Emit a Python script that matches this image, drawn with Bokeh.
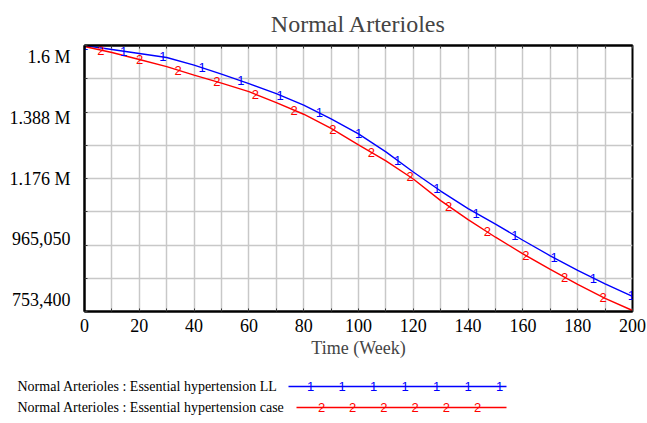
from bokeh.plotting import figure
from bokeh.layouts import column
from bokeh.models import FixedTicker, Range1d, LinearAxis
from bokeh.core.properties import value
from bokeh.embed import file_html
from bokeh.resources import INLINE
import numpy as np

# ---------------- data ----------------
title_text = "Normal Arterioles"
x_label = "Time (Week)"
weeks = [0, 10, 20, 30, 40, 50, 60, 70, 80, 90, 100,
         110, 120, 130, 140, 150, 160, 170, 180, 190, 200]
ll_series = [1600000, 1587200, 1574400, 1561700, 1537700, 1509000, 1478600,
             1446700, 1409900, 1366800, 1318900, 1261400, 1197500, 1136800,
             1080900, 1031300, 980200, 930700, 884400, 841300, 801300]
case_series = [1596800, 1577600, 1555300, 1532900, 1505800, 1480200, 1453000,
               1417900, 1381200, 1336400, 1283700, 1232600, 1175100, 1106400,
               1045700, 989800, 937100, 887600, 839700, 794900, 756600]
ll_marker_weeks = [0, 14.3, 28.6, 42.9, 57.1, 71.4, 85.7, 100, 114.3, 128.6,
                   142.9, 157.1, 171.4, 185.7, 199.6]
case_marker_weeks = [6, 20.1, 34.2, 48.3, 62.4, 76.5, 90.6, 104.7, 118.8,
                     132.9, 147, 161.1, 175.2, 189.3]
y_ticks = [753400, 965050, 1176700, 1388350, 1600000]
y_tick_labels = ["753,400", "965,050", "1.176 M", "1.388 M", "1.6 M"]
x_ticks = [0, 20, 40, 60, 80, 100, 120, 140, 160, 180, 200]
legend_labels = ["Normal Arterioles : Essential hypertension LL",
                 "Normal Arterioles : Essential hypertension case"]
legend_marks = ["1", "2"]

# ---------------- styles ----------------
SERIF = "Liberation Serif"
SANS = "Liberation Sans"
BLUE = "#0000ff"
RED = "#ff0000"

y0, y1 = y_ticks[0], y_ticks[-1]
p = figure(width=647, height=370, x_range=Range1d(0, 200), y_range=Range1d(y0, y1),
           output_backend="svg", toolbar_location=None,
           min_border_left=84, min_border_right=15, min_border_top=45, min_border_bottom=59)
p.frame_align = False
p.title.text = title_text
p.title.align = "center"
p.title.text_font = SERIF
p.title.text_font_size = "24px"
p.title.text_font_style = "normal"
p.title.standoff = 17

p.outline_line_color = "black"
p.outline_line_width = 2
p.background_fill_color = "white"
p.border_fill_color = "white"

# grids
x_grid_ticks = list(range(0, 201, 10))
step = (y1 - y0) / 8
y_grid_ticks = [y0 + i * step for i in range(9)]
p.xgrid.ticker = FixedTicker(ticks=x_grid_ticks)
p.ygrid.ticker = FixedTicker(ticks=y_grid_ticks)
for g in (p.xgrid, p.ygrid):
    g.grid_line_color = "#c8c8c8"
    g.grid_line_width = 1.5

# axes
p.xaxis.ticker = FixedTicker(ticks=x_ticks, minor_ticks=x_grid_ticks)
mid = (y0 + y1) / 2
k = 0.913
label_pos = [round(mid + k * (v - mid)) for v in y_ticks]
p.yaxis.ticker = FixedTicker(ticks=label_pos, minor_ticks=y_grid_ticks)
p.yaxis.major_label_overrides = {lp: lab for lp, lab in zip(label_pos, y_tick_labels)}
for ax in (p.xaxis, p.yaxis):
    ax.axis_line_color = "black"
    ax.axis_line_width = 2
    ax.major_tick_line_color = None
    ax.major_tick_out = 0
    ax.major_tick_in = 0
    ax.major_label_text_font = SERIF
    ax.major_label_text_font_size = "18px"
    ax.major_label_text_color = "black"
    ax.minor_tick_line_color = "#333333"
    ax.minor_tick_in = 3
    ax.minor_tick_out = 0
p.yaxis.major_label_standoff = 14
p.xaxis.major_label_standoff = 7
p.xaxis.axis_label = x_label
p.xaxis.axis_label_text_font = SERIF
p.xaxis.axis_label_text_font_size = "18px"
p.xaxis.axis_label_text_font_style = "normal"
p.xaxis.axis_label_standoff = 3

# small inner ticks along the top border
top_ax = LinearAxis(ticker=FixedTicker(ticks=[], minor_ticks=x_grid_ticks),
                    axis_line_color="black", axis_line_width=2,
                    major_tick_line_color=None, major_tick_in=0, major_tick_out=0,
                    minor_tick_line_color="#333333", minor_tick_in=3, minor_tick_out=0,
                    major_label_standoff=0)
p.add_layout(top_ax, "above")

# series
p.line(weeks, ll_series, line_color=BLUE, line_width=1.4)
p.line(weeks, case_series, line_color=RED, line_width=1.4)
p.text(x=ll_marker_weeks, y=list(np.interp(ll_marker_weeks, weeks, ll_series)),
       text=[legend_marks[0]] * len(ll_marker_weeks), text_color=BLUE,
       text_font=value(SANS), text_font_size="13px",
       text_align="center", text_baseline="middle")
p.text(x=case_marker_weeks, y=list(np.interp(case_marker_weeks, weeks, case_series)),
       text=[legend_marks[1]] * len(case_marker_weeks), text_color=RED,
       text_font=value(SANS), text_font_size="13px",
       text_align="center", text_baseline="middle")

# ---------------- legend panel ----------------
LG_H = 53
lg = figure(width=647, height=LG_H, x_range=Range1d(0, 647), y_range=Range1d(LG_H, 0),
            output_backend="svg", toolbar_location=None,
            min_border=0, min_border_left=0, min_border_right=0,
            min_border_top=0, min_border_bottom=0,
            x_axis_type=None, y_axis_type=None)
lg.frame_align = False
lg.outline_line_color = None
lg.xgrid.visible = False
lg.ygrid.visible = False
rows_y = [16, 37]
line_start = [288, 296]
line_end = 506
mark_start = [310, 321]
mark_gap = [31.5, 31.2]
mark_count = [7, 6]
colors = [BLUE, RED]
lg.text(x=[17, 17], y=rows_y, text=legend_labels, text_font=value(SERIF),
        text_font_size="14px", text_color="black", text_align="left",
        text_baseline="middle")
for i in range(2):
    lg.line([line_start[i], line_end], [rows_y[i], rows_y[i]], line_color=colors[i], line_width=1.3)
    xs = [mark_start[i] + j * mark_gap[i] for j in range(mark_count[i])]
    lg.text(x=xs, y=[rows_y[i]] * len(xs), text=[legend_marks[i]] * len(xs),
            text_color=colors[i], text_font=value(SANS), text_font_size="13px",
            text_align="center", text_baseline="middle")

layout = column(p, lg, spacing=0)
open("out.html", "w").write(file_html(layout, INLINE))
